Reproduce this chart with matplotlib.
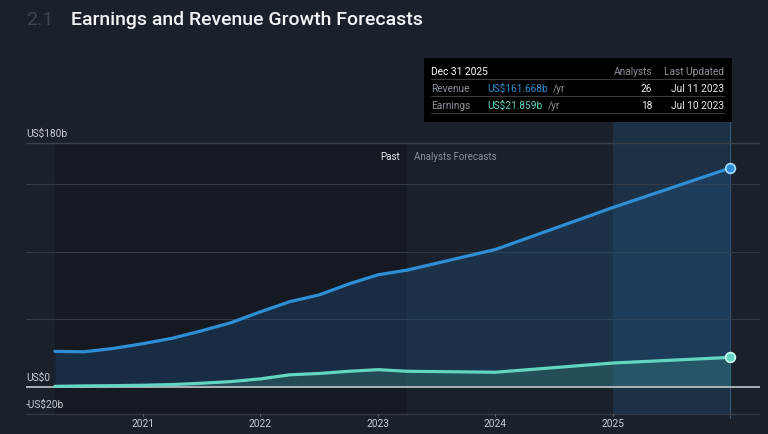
import matplotlib
matplotlib.use("Agg")
import matplotlib.pyplot as plt
from matplotlib.patches import Rectangle
import numpy as np

plt.rcParams['font.family'] = ['Roboto', 'DejaVu Sans']

# ---- data (US$ billions) ----
past_dates = [2020.25, 2020.5, 2020.75, 2021.0, 2021.25, 2021.5, 2021.75,
              2022.0, 2022.25, 2022.5, 2022.75, 2023.0, 2023.25]
past_revenue = [26.3, 26.0, 28.5, 32.0, 36.0, 41.5, 47.5,
                55.5, 63.0, 68.0, 76.0, 82.8, 86.3]
past_earnings = [0.5, 0.8, 1.0, 1.3, 1.8, 2.8, 4.0,
                 6.0, 9.0, 10.0, 11.6, 12.8, 11.6]
fc_dates = [2023.25, 2024.0, 2025.0, 2026.0]
fc_revenue = [86.3, 101.5, 132.5, 161.668]
fc_earnings = [11.6, 10.9, 17.7, 21.859]
year_ticks = [2021, 2022, 2023, 2024, 2025]
y_labels = {180: "US$180b", 0: "US$0", -20: "-US$20b"}
minor_grid = [50, 100, 150]

BG = "#1b212b"
REV = "#2f8fd6"
EARN = "#62d6c2"

W, H = 768, 435
fig = plt.figure(figsize=(W / 100, H / 100), dpi=100, facecolor=BG)

def fx(px):
    return px / W

def fy(py):
    return 1 - py / H

# axes: pixel x 26..760, y 122..420
x0p, x1p, y0p, y1p = 26, 760, 122, 420
ax = fig.add_axes([fx(x0p), fy(y1p), (x1p - x0p) / W, (y1p - y0p) / H])
ax.set_facecolor(BG)
ppb = 1.355
zero_py = 388
ymax = (zero_py - y0p) / ppb
ymin = (zero_py - y1p) / ppb
ax.set_ylim(ymin, ymax)
xmin = 2021 + (x0p - 143) / 117.5
xmax = 2021 + (x1p - 143) / 117.5
ax.set_xlim(xmin, xmax)
ax.set_axis_off()

dates = past_dates + fc_dates[1:]
rev = past_revenue + fc_revenue[1:]
earn = past_earnings + fc_earnings[1:]

# past region shading (darker)
ax.fill_between([past_dates[0], past_dates[-1]], -20, 180, color="#10131a", alpha=0.5, lw=0, zorder=0)
# highlight band for hovered period
ax.fill_between([fc_dates[-2], fc_dates[-1]], -20, ymax, color="#1f4c74", alpha=0.38, lw=0, zorder=0.5)
ax.axvline(fc_dates[-1], color="#3f6f98", lw=0.8, alpha=0.7, zorder=0.6)

# gridlines
for g in minor_grid:
    ax.axhline(g, color="#323c48", lw=0.8, zorder=1)
ax.axhline(180, color="#3a414b", lw=1.0, zorder=1)
ax.axhline(-20, color="#343a44", lw=1.0, zorder=1)

# area fills
ax.fill_between(dates, 0, rev, color="#1f4f7a", alpha=0.38, lw=0, zorder=2)
ax.fill_between(dates, 0, earn, color="#3a8a80", alpha=0.33, lw=0, zorder=2.5)

ax.axhline(0, color="#b4b9c0", lw=1.3, zorder=3)

ax.plot(dates, rev, color=REV, lw=2.3, zorder=4, solid_capstyle='round', solid_joinstyle='round')
ax.plot(dates, earn, color=EARN, lw=2.3, zorder=4, solid_capstyle='round', solid_joinstyle='round')
ax.plot([fc_dates[-1]], [fc_revenue[-1]], 'o', ms=7, mfc=REV, mec="#a8dcff", mew=1.2, zorder=5)
ax.plot([fc_dates[-1]], [fc_earnings[-1]], 'o', ms=7, mfc=EARN, mec="#d0fff4", mew=1.2, zorder=5)

# y labels
for v, lab in y_labels.items():
    ax.text(xmin, v + 3.5, lab, color="#c9cdd3", fontsize=7.3, ha="left", va="bottom", zorder=6)

# x tick labels
for yr in year_ticks:
    ax.text(yr, ymin + 0.5, str(yr), color="#c9cdd3", fontsize=7.3, ha="center", va="top",
            clip_on=False)
    ax.plot([yr, yr], [-20, -21.3], color="#555c66", lw=0.8, clip_on=False)

# Past / forecast labels
ax.text(past_dates[-1] - 0.06, 170.5, "Past", color="#e8eaed", fontsize=7, ha="right", va="center", zorder=6)
ax.text(past_dates[-1] + 0.06, 170.5, "Analysts Forecasts", color="#8a9099", fontsize=7, ha="left", va="center", zorder=6)

# title
fig.text(fx(26), fy(20), "2.1", color="#3f4651", fontsize=14, ha="left", va="center")
fig.text(fx(71), fy(20), "Earnings and Revenue Growth Forecasts", color="#f2f3f5",
         fontsize=14, ha="left", va="center", fontweight="medium")

# tooltip
fig.patches.append(Rectangle((fx(424), fy(123)), (732 - 424) / W, (123 - 59) / H,
                             transform=fig.transFigure, facecolor="#000000", edgecolor="none", zorder=10))
for ly in [80, 97, 114]:
    fig.lines.append(plt.Line2D([fx(431), fx(724)], [fy(ly), fy(ly)], transform=fig.transFigure,
                                color="#3a3e44", lw=0.7, zorder=11))
fs = 7.3
fig.text(fx(431), fy(72), "Dec 31 2025", color="#ffffff", fontsize=fs, ha="left", va="center", zorder=12)
fig.text(fx(652), fy(72), "Analysts", color="#8d9299", fontsize=fs, ha="right", va="center", zorder=12)
fig.text(fx(724), fy(72), "Last Updated", color="#8d9299", fontsize=fs, ha="right", va="center", zorder=12)

fig.text(fx(431), fy(89), "Revenue", color="#8d9299", fontsize=fs, ha="left", va="center", zorder=12)
fig.text(fx(487), fy(89), "US$161.668b", color=REV, fontsize=fs, ha="left", va="center", zorder=12)
fig.text(fx(553), fy(89), "/yr", color="#8d9299", fontsize=fs, ha="left", va="center", zorder=12)
fig.text(fx(652), fy(89), "26", color="#e8eaed", fontsize=fs, ha="right", va="center", zorder=12)
fig.text(fx(724), fy(89), "Jul 11 2023", color="#e8eaed", fontsize=fs, ha="right", va="center", zorder=12)

fig.text(fx(431), fy(106), "Earnings", color="#8d9299", fontsize=fs, ha="left", va="center", zorder=12)
fig.text(fx(487), fy(106), "US$21.859b", color=EARN, fontsize=fs, ha="left", va="center", zorder=12)
fig.text(fx(548), fy(106), "/yr", color="#8d9299", fontsize=fs, ha="left", va="center", zorder=12)
fig.text(fx(652), fy(106), "18", color="#e8eaed", fontsize=fs, ha="right", va="center", zorder=12)
fig.text(fx(724), fy(106), "Jul 10 2023", color="#e8eaed", fontsize=fs, ha="right", va="center", zorder=12)

fig.savefig("out.png", dpi=100, facecolor=BG)
